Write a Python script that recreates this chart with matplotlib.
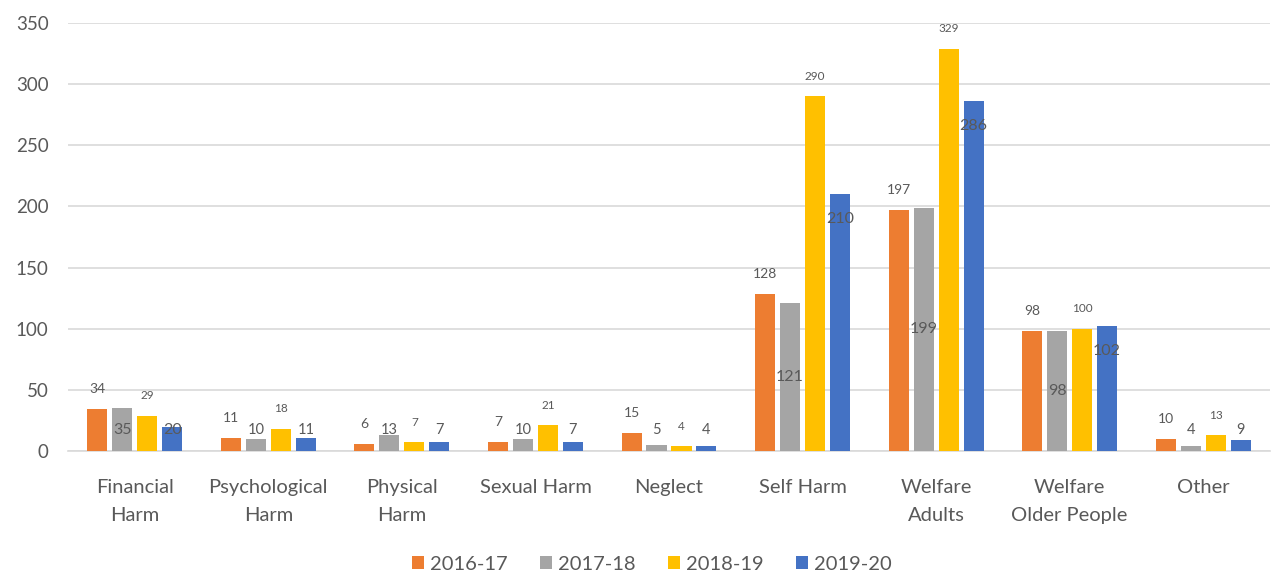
import numpy as np
import matplotlib.pyplot as plt

plt.rcParams['font.family'] = ['Lato', 'DejaVu Sans']

# categories and yearly counts
categories = ['Financial\nHarm', 'Psychological\nHarm', 'Physical\nHarm', 'Sexual Harm',
              'Neglect', 'Self Harm', 'Welfare\nAdults', 'Welfare\nOlder People', 'Other']
years = ['2016-17', '2017-18', '2018-19', '2019-20']
v2016 = [34, 11, 6, 7, 15, 128, 197, 98, 10]
v2017 = [35, 10, 13, 10, 5, 121, 199, 98, 4]
v2018 = [29, 18, 7, 21, 4, 290, 329, 100, 13]
v2019 = [20, 11, 7, 7, 4, 210, 286, 102, 9]

colors = ['#ED7D31', '#A5A5A5', '#FFC000', '#4472C4']
text_col = '#595959'

fig = plt.figure(figsize=(12.71, 5.74), dpi=100)
ax = fig.add_axes([68 / 1271, 1 - 451 / 574, 1202 / 1271, 428 / 574])

x = np.arange(len(categories))
step = 0.187
width = 0.15
series = [v2016, v2017, v2018, v2019]
for i, (vals, c, name) in enumerate(zip(series, colors, years)):
    pos = x + (i - 1.5) * step
    ax.bar(pos, vals, width, color=c, label=name, zorder=3)
    for px, v in zip(pos, vals):
        if i == 0 or i == 2:
            # label above bar
            ax.annotate(str(v), (px, v), xytext=(0, 14.4), textcoords='offset points',
                        ha='center', va='center', color=text_col,
                        fontsize=10 if i == 0 else 8.5)
        elif i == 1:
            ax.text(px, max(v / 2, 17), str(v), ha='center', va='center',
                    color=text_col, fontsize=11.5 if v > 30 else 10.5)
        else:
            ax.text(px, max(v - 20, 17), str(v), ha='center', va='center',
                    color=text_col, fontsize=11.5 if v > 15 else 10.5)

ax.set_xlim(-0.5, len(categories) - 0.5)
ax.set_ylim(0, 350)
ax.set_yticks(np.arange(0, 351, 50))
ax.set_xticks(x)
ax.set_xticklabels(categories, linespacing=1.8, fontsize=14.5)
ax.tick_params(axis='both', length=0, colors=text_col)
ax.tick_params(axis='y', pad=14, labelsize=13.5)
ax.tick_params(axis='x', pad=20)
ax.grid(axis='y', color='#D9D9D9', linewidth=1.2, zorder=0)
for s in ['top', 'right', 'left']:
    ax.spines[s].set_visible(False)
ax.spines['bottom'].set_color('#D9D9D9')
ax.spines['bottom'].set_linewidth(1.2)

leg = fig.legend(loc='center', bbox_to_anchor=(652 / 1271, 1 - 564 / 574), ncol=4,
                 frameon=False, fontsize=14.5, handlelength=0.6, handleheight=0.6,
                 handletextpad=0.3, columnspacing=1.6)
for t in leg.get_texts():
    t.set_color(text_col)

fig.savefig('out.png', dpi=100)
